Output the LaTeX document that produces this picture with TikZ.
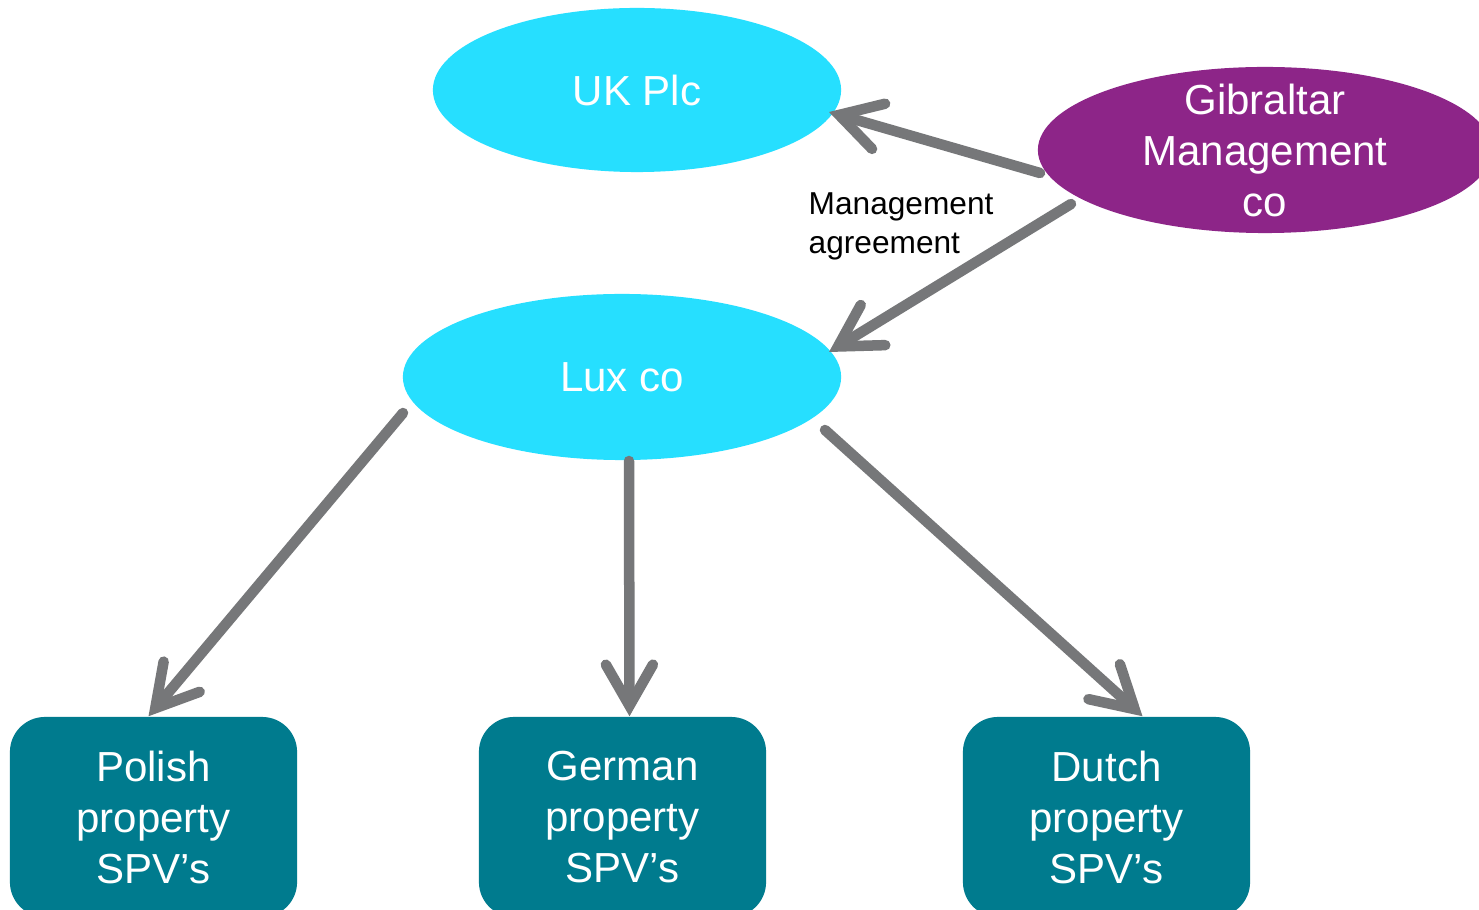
\documentclass[tikz,border=0pt]{standalone}
\usepackage{fontspec}
\setmainfont{Liberation Sans}
\usetikzlibrary{shapes.geometric,arrows.meta}
\definecolor{cyanfill}{HTML}{26DFFF}
\definecolor{plum}{HTML}{8D2588}
\definecolor{teal}{HTML}{007B8E}
\definecolor{arrowgray}{HTML}{767779}
\begin{document}
\begin{tikzpicture}[x=0.01cm,y=-0.01cm,
  bigtext/.style={font=\fontsize{11.95pt}{14.5pt}\selectfont, text=white, align=center},
  entity/.style={ellipse, draw=none, bigtext, inner sep=0pt},
  spv/.style={rectangle, rounded corners=0.35cm, fill=teal, draw=none, bigtext,
    minimum width=2.87cm, minimum height=2.0cm, inner sep=0pt},
  arr/.style={draw=arrowgray, line width=0.105cm, line cap=round,
    -{Straight Barb[length=0.41cm, width=0.47cm, line cap=round, line join=miter]}},
  note/.style={font=\fontsize{9pt}{11.1pt}\selectfont, align=left, inner sep=0pt}]
  \clip (0,0) rectangle (1479,910);
  \fill[white] (0,0) rectangle (1479,910);

  % companies
  \node[entity, fill=cyanfill, minimum width=4.08cm, minimum height=1.64cm] (uk) at (637,90) {UK Plc};
  \node[entity, fill=plum, minimum width=4.54cm, minimum height=1.66cm, inner ysep=-0.5cm] (gib) at (1265,150) {Gibraltar\\Management\\co};
  \node[entity, fill=cyanfill, minimum width=4.38cm, minimum height=1.66cm] (lux) at (622,377) {Lux co};

  % property SPVs
  \node[spv] (polish) at (153.5,817) {Polish\\property\\SPV’s};
  \node[spv] (german) at (622.5,817) {German\\property\\SPV’s};
  \node[spv] (dutch) at (1106.5,817) {Dutch\\property\\SPV’s};

  % label of the management agreement
  \node[note, anchor=base west] (agr) at (808,254) {Management\\agreement};

  % connectors
  \draw[arr] ([shift={(-225,23)}]gib.center) -- ([shift={(192,22)}]uk.center);
  \draw[arr] ([shift={(-194,54)}]gib.center) -- ([shift={(207,-25)}]lux.center);
  \draw[arr] ([shift={(-219,36)}]lux.center) -- ([shift={(-5,0)}]polish.north);
  \draw[arr] ([shift={(7,84)}]lux.center) -- ([shift={(7,0)}]german.north);
  \draw[arr] ([shift={(203,53)}]lux.center) -- ([shift={(36,0)}]dutch.north);
\end{tikzpicture}
\end{document}
